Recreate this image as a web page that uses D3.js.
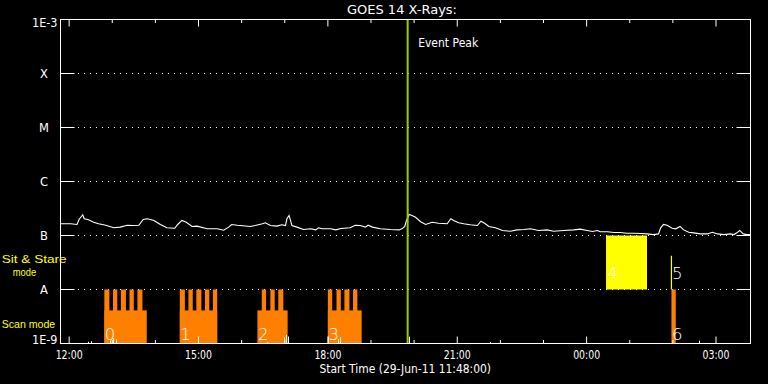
<!DOCTYPE html>
<html><head><meta charset="utf-8">
<script src="https://cdn.jsdelivr.net/npm/d3@7"></script>
<style>html,body{margin:0;padding:0;background:#000;}svg{display:block}</style>
</head><body>
<script>
// ---------------- data ----------------
const chartTitle = "GOES 14 X-Rays:";
const xAxisTitle = "Start Time (29-Jun-11 11:48:00)";
const domainStart = "11:48";
const domainEnd = "03:48";
const xTickTimes = ["12:00","15:00","18:00","21:00","00:00","03:00"];
const yTickValues = [1e-9,1e-8,1e-7,1e-6,1e-5,1e-4,1e-3];
const yTickLabels = ["1E-9","A","B","C","M","X","1E-3"];

const fluxTimes = ["11:48","12:02","12:11","12:14","12:19","12:21","12:27","12:34","12:41","12:51","13:02","13:11","13:21","13:28","13:37","13:43","13:49","13:58","14:07","14:16","14:27","14:31","14:37","14:43","14:51","14:58","15:12","15:26","15:35","15:42","15:46","15:54","15:58","16:12","16:19","16:29","16:33","16:40","16:49","16:56","17:01","17:03","17:06","17:08","17:10","17:17","17:26","17:36","17:43","17:47","17:52","18:04","18:11","18:18","18:31","18:38","18:45","18:52","18:56","19:02","19:13","19:27","19:39","19:43","19:47","19:49","19:53","19:57","20:02","20:09","20:16","20:25","20:34","20:46","20:51","20:55","21:02","21:09","21:18","21:28","21:33","21:38","21:44","21:53","22:03","22:14","22:23","22:33","22:42","22:53","23:05","23:14","23:28","23:42","23:51","00:01","00:08","00:15","00:19","00:29","00:38","00:47","00:56","01:06","01:15","01:24","01:33","01:40","01:43","01:47","01:52","01:59","02:04","02:10","02:15","02:22","02:29","02:38","02:48","02:55","03:02","03:11","03:20","03:25","03:29","03:33","03:38","03:43","03:48"];
const fluxValues = [1.65e-7,1.65e-7,1.60e-7,2.0e-7,2.42e-7,2.04e-7,1.95e-7,1.76e-7,1.65e-7,1.55e-7,1.39e-7,1.43e-7,1.55e-7,1.53e-7,1.55e-7,1.98e-7,2.04e-7,1.90e-7,1.60e-7,1.39e-7,1.36e-7,1.60e-7,1.90e-7,1.76e-7,1.47e-7,1.49e-7,1.33e-7,1.33e-7,1.25e-7,1.43e-7,1.60e-7,1.55e-7,1.53e-7,1.47e-7,1.53e-7,1.65e-7,1.72e-7,1.53e-7,1.49e-7,1.58e-7,1.53e-7,2.04e-7,2.35e-7,1.90e-7,1.53e-7,1.43e-7,1.29e-7,1.33e-7,1.27e-7,1.39e-7,1.33e-7,1.33e-7,1.27e-7,1.35e-7,1.39e-7,1.55e-7,1.53e-7,1.43e-7,1.55e-7,1.43e-7,1.33e-7,1.29e-7,1.27e-7,1.33e-7,1.47e-7,1.84e-7,2.45e-7,2.35e-7,2.18e-7,1.80e-7,1.60e-7,1.76e-7,1.69e-7,1.65e-7,2.04e-7,1.90e-7,1.72e-7,1.65e-7,1.58e-7,1.53e-7,1.84e-7,1.69e-7,1.47e-7,1.39e-7,1.24e-7,1.20e-7,1.27e-7,1.29e-7,1.33e-7,1.24e-7,1.27e-7,1.20e-7,1.24e-7,1.27e-7,1.31e-7,1.24e-7,1.19e-7,1.24e-7,1.17e-7,1.17e-7,1.14e-7,1.14e-7,1.10e-7,1.10e-7,1.09e-7,1.07e-7,1.04e-7,1.07e-7,1.39e-7,1.60e-7,1.55e-7,1.36e-7,1.33e-7,1.47e-7,1.27e-7,1.15e-7,1.12e-7,1.07e-7,1.07e-7,1.15e-7,1.07e-7,1.04e-7,1.07e-7,1.04e-7,1.12e-7,1.24e-7,1.07e-7,1.04e-7,1.04e-7];

// short channel: only the brief excursions above 1E-9
const shortBumpTimes = ["12:26","12:30","12:57","13:01","13:05","16:35","16:59","17:02","17:04","18:00","18:14","18:17","19:53","21:46","02:36"];
const shortBumpFlux = [1.08e-9,1.10e-9,1.15e-9,1.25e-9,1.20e-9,1.05e-9,1.30e-9,1.44e-9,1.35e-9,1.34e-9,1.20e-9,1.30e-9,1.34e-9,1.06e-9,1.13e-9];

// scan mode observations
const scanLabels = ["0","1","2","3"];
const scanStart = ["12:49","14:34","16:22","18:00"];
const scanEnd = ["13:48","15:26","17:04","18:47"];
const scanBaseLevel = 4.1e-9;
const scanStripeLevel = 1e-8;
const stripeStart = ["12:49","13:01","13:12","13:24","13:35","14:34","14:46","14:57","15:09","15:20","16:28","16:40","16:51","18:00","18:12","18:23","18:35"];
const stripeEnd = ["12:56","13:07","13:19","13:30","13:42","14:41","14:52","15:04","15:15","15:26","16:34","16:46","16:58","18:06","18:18","18:30","18:41"];

// sit & stare observations
const stareLabel = "4";
const stareStart = "00:27";
const stareEnd = "01:24";
const stareLow = 1e-8;
const stareHigh = 1e-7;
const stare2Label = "5";
const stare2Time = "01:58";
const stare2High = 4.2e-8;
const scan2Label = "6";
const scan2Start = "01:58";
const scan2End = "02:04";

const eventPeakTime = "19:51";
const eventPeakLabel = "Event Peak";

// ---------------- drawing ----------------
const W = 768, H = 384;
const FONT = "'DejaVu Sans', sans-serif";
const FONT2 = "'Liberation Sans', 'DejaVu Sans', sans-serif";
function t(s){const [h,m]=s.split(":").map(Number);return new Date(2011,5,h<11?30:29,h,m);}

const x = d3.scaleTime().domain([t(domainStart), t(domainEnd)]).range([60.5, 750.5]);
const y = d3.scaleLog().domain([1e-9, 1e-3]).range([343.5, 19.5]);

const svg = d3.select("body").append("svg").attr("width", W).attr("height", H)
  .style("background", "#000");
svg.append("rect").attr("width", W).attr("height", H).attr("fill", "#000");

svg.append("defs").append("clipPath").attr("id","plot")
  .append("rect").attr("x",60.5).attr("y",19.5).attr("width",690).attr("height",324);

// gridlines & y ticks
const grid = svg.append("g");
yTickValues.forEach(v => {
  const yy = y(v);
  grid.append("line").attr("x1",60.5).attr("x2",74.5).attr("y1",yy).attr("y2",yy).attr("stroke","#fff");
  grid.append("line").attr("x1",736.5).attr("x2",750.5).attr("y1",yy).attr("y2",yy).attr("stroke","#fff");
  if (v > 1e-9 && v < 1e-3) {
    grid.append("line").attr("x1",78).attr("x2",734).attr("y1",yy).attr("y2",yy)
      .attr("stroke","#fff").attr("stroke-dasharray","1 5");
  }
});

// y labels
yTickValues.forEach((v,i) => {
  const lab = yTickLabels[i];
  const isExp = lab.length > 1;
  let by = y(v) + 4.3;
  if (v === 1e-3) by = y(v) + 7.8;
  if (v === 1e-9) by = y(v) + 0.5;
  svg.append("text").text(lab)
    .attr("x", isExp ? 57.5 : 44).attr("y", by)
    .attr("text-anchor", isExp ? "end" : "middle")
    .attr("fill","#fff").style("font-family",FONT).style("font-size","11.5px")
    .attr("textLength", isExp ? 25.5 : null).attr("lengthAdjust","spacingAndGlyphs");
});

const plot = svg.append("g").attr("clip-path","url(#plot)");

// scan mode blocks
scanStart.forEach((s,i) => {
  plot.append("rect").attr("x", x(t(s))).attr("width", x(t(scanEnd[i])) - x(t(s)))
    .attr("y", y(scanBaseLevel)).attr("height", y(1e-9) - y(scanBaseLevel)).attr("fill","#ff8000");
});
stripeStart.forEach((s,i) => {
  plot.append("rect").attr("x", x(t(s))).attr("width", x(t(stripeEnd[i])) - x(t(s)))
    .attr("y", y(scanStripeLevel)).attr("height", y(1e-9) - y(scanStripeLevel)).attr("fill","#ff8000");
});
// sit & stare box
plot.append("rect").attr("x", x(t(stareStart))).attr("width", x(t(stareEnd)) - x(t(stareStart)))
  .attr("y", y(stareHigh)).attr("height", y(stareLow) - y(stareHigh)).attr("fill","#ffff00");
// obs 5 (yellow line) and 6 (orange bar)
plot.append("rect").attr("x", x(t(scan2Start))).attr("width", x(t(scan2End)) - x(t(scan2Start)))
  .attr("y", y(1e-8)).attr("height", y(1e-9) - y(1e-8)).attr("fill","#ff8000");
plot.append("line").attr("x1", x(t(stare2Time))).attr("x2", x(t(stare2Time)))
  .attr("y1", y(stare2High)).attr("y2", y(1e-8)).attr("stroke","#ffff00").attr("stroke-width",1.2);

// flux curve
const fluxData = fluxTimes.map((s,i) => ({d:t(s), v:fluxValues[i]}));
plot.append("path").datum(fluxData)
  .attr("d", d3.line().x(d => x(d.d)).y(d => y(d.v)))
  .attr("fill","none").attr("stroke","#fff").attr("stroke-width",1.1);

// short channel bumps
shortBumpTimes.forEach((s,i) => {
  plot.append("line").attr("x1", Math.round(x(t(s)))+0.5).attr("x2", Math.round(x(t(s)))+0.5)
    .attr("y1", y(1e-9)).attr("y2", y(shortBumpFlux[i])).attr("stroke","#fff");
});

// event peak
const xp = x(t(eventPeakTime));
svg.append("line").attr("x1", xp).attr("x2", xp).attr("y1", 20).attr("y2", 343)
  .attr("stroke","#99cc00").attr("stroke-width",2);
svg.append("text").text(eventPeakLabel).attr("x", xp + 10.5).attr("y", 47)
  .attr("fill","#fff").style("font-family",FONT).style("font-size","12px")
  .attr("textLength",60).attr("lengthAdjust","spacingAndGlyphs");

// observation labels
const digitStyle = sel => sel.attr("fill","#fff").style("font-family",FONT).style("font-size","16.5px").style("font-weight","300");
scanLabels.forEach((lab,i) => {
  svg.append("text").text(lab).attr("x", x(t(scanStart[i])) + 0.5).attr("y", 339.5).call(digitStyle);
});
svg.append("text").text(stareLabel).attr("x", x(t(stareStart)) + 1.5).attr("y", 278.5).call(digitStyle);
svg.append("text").text(stare2Label).attr("x", x(t(stare2Time)) + 0.5).attr("y", 278.5).call(digitStyle);
svg.append("text").text(scan2Label).attr("x", x(t(scan2Start)) + 0.5).attr("y", 339.5).call(digitStyle);

// x axes
const majorT = xTickTimes.map(t);
const minorT = x.ticks(d3.timeHour.every(1)).filter(d => !majorT.some(m => +m === +d));
function styleAxis(g){
  g.select(".domain").remove();
  g.selectAll(".tick line").attr("stroke","#fff");
  g.selectAll(".tick text").attr("fill","#fff").style("font-family",FONT).style("font-size","11.5px")
    .attr("textLength",27).attr("lengthAdjust","spacingAndGlyphs");
}
svg.append("g").attr("transform","translate(0,343.5)")
  .call(d3.axisBottom(x).tickValues(majorT).tickSize(-7).tickPadding(7).offset(0).tickFormat(d3.timeFormat("%H:%M")))
  .call(styleAxis);
svg.append("g").attr("transform","translate(0,343.5)")
  .call(d3.axisBottom(x).tickValues(minorT).tickSize(-3.5).offset(0).tickFormat(""))
  .call(styleAxis);
svg.append("g").attr("transform","translate(0,19.5)")
  .call(d3.axisTop(x).tickValues(majorT).tickSize(-7).offset(0).tickFormat(""))
  .call(styleAxis);
svg.append("g").attr("transform","translate(0,19.5)")
  .call(d3.axisTop(x).tickValues(minorT).tickSize(-3.5).offset(0).tickFormat(""))
  .call(styleAxis);

// frame
svg.append("rect").attr("x",60.5).attr("y",19.5).attr("width",690).attr("height",324)
  .attr("fill","none").attr("stroke","#fff");

// titles
svg.append("text").text(chartTitle).attr("x",347).attr("y",14.2)
  .attr("fill","#fff").style("font-family",FONT).style("font-size","12.5px")
  .attr("textLength",110).attr("lengthAdjust","spacingAndGlyphs");
svg.append("text").text(xAxisTitle).attr("x",319.5).attr("y",372.6)
  .attr("fill","#fff").style("font-family",FONT).style("font-size","12px")
  .attr("textLength",171.5).attr("lengthAdjust","spacingAndGlyphs");

// mode labels
const modeStyle = sel => sel.attr("fill","#ffff00").style("font-family",FONT2).style("font-size","11px").attr("lengthAdjust","spacingAndGlyphs");
svg.append("text").text("Sit & Stare").attr("x",1.7).attr("y",263.3).attr("textLength",65).call(modeStyle);
svg.append("text").text("mode").attr("x",12.7).attr("y",276.4).attr("textLength",23.5).call(modeStyle);
svg.append("text").text("Scan mode").attr("x",1.7).attr("y",328.3).attr("textLength",53.5).call(modeStyle);
</script>
</body></html>
